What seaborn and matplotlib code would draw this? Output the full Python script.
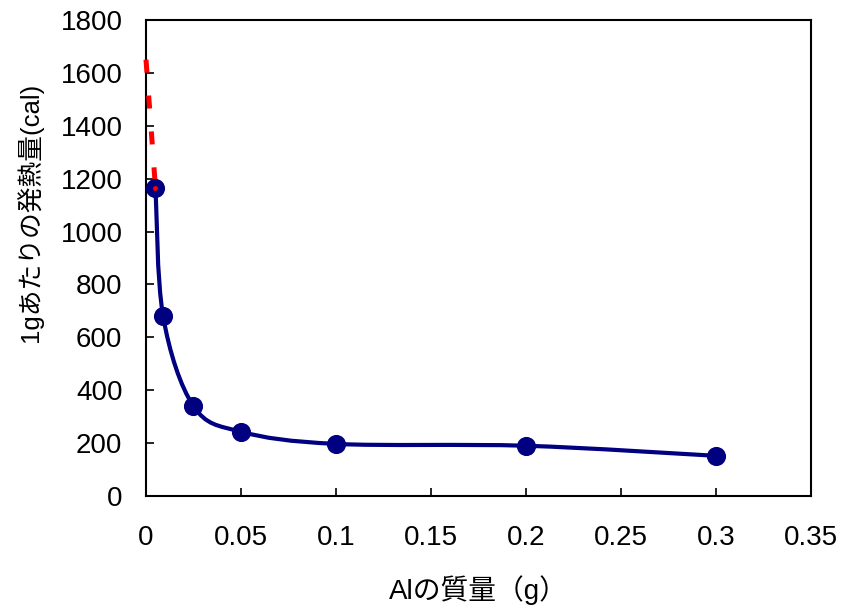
import numpy as np
import pandas as pd
import matplotlib
matplotlib.use("Agg")
import matplotlib.pyplot as plt
from matplotlib.path import Path
from matplotlib.patches import PathPatch
import seaborn as sns

# Heat released per gram versus aluminium mass
al_mass = [0.005, 0.009, 0.025, 0.05, 0.1, 0.2, 0.3]
heat_per_g = [1165, 680, 340, 243, 197, 190, 152]

# Dashed extrapolation towards zero mass
extra_mass = [0.0, 0.005]
extra_heat = [1650, 1165]

x_ticks = [0, 0.05, 0.1, 0.15, 0.2, 0.25, 0.3, 0.35]
x_tick_labels = ["0", "0.05", "0.1", "0.15", "0.2", "0.25", "0.3", "0.35"]
y_ticks = [0, 200, 400, 600, 800, 1000, 1200, 1400, 1600, 1800]

sns.set_theme(style="white")
plt.rcParams["font.family"] = ["Liberation Sans", "Noto Sans CJK JP", "DejaVu Sans"]

df = pd.DataFrame({"mass": al_mass, "heat": heat_per_g})
df_extra = pd.DataFrame({"mass": extra_mass, "heat": extra_heat})

fig = plt.figure(figsize=(8.42, 6.15), dpi=100)
ax = fig.add_axes([0.1734, 0.1935, 0.7894, 0.7740])

navy = "#000080"


def smooth_path(xs, ys):
    """Bezier curve through the points (Catmull-Rom tangents)."""
    pts = np.column_stack([xs, ys]).astype(float)
    n = len(pts)
    verts = [pts[0]]
    codes = [Path.MOVETO]
    for i in range(n - 1):
        p0 = pts[i - 1] if i > 0 else pts[i]
        p1 = pts[i]
        p2 = pts[i + 1]
        p3 = pts[i + 2] if i + 2 < n else pts[i + 1]
        c1 = p1 + (p2 - p0) / 6.0
        c2 = p2 - (p3 - p1) / 6.0
        verts += [c1, c2, p2]
        codes += [Path.CURVE4] * 3
    return Path(np.array(verts), codes)


curve = PathPatch(smooth_path(df["mass"], df["heat"]), facecolor="none",
                  edgecolor=navy, linewidth=3.0, capstyle="round",
                  joinstyle="round", zorder=3)
ax.add_patch(curve)

sns.lineplot(data=df_extra, x="mass", y="heat", ax=ax, color="red",
             linewidth=3.6, dashes=False, zorder=4, clip_on=False)
ax.lines[-1].set_dashes([2.6, 4.6])

sns.scatterplot(data=df, x="mass", y="heat", ax=ax, color=navy, s=190,
                edgecolor=navy, linewidth=0, zorder=5)
# small red dot where the dashed line meets the first point
ax.plot(extra_mass[-1:], extra_heat[-1:], "o", color="red", markersize=2.5,
        zorder=6)

ax.set_xlim(0, 0.35)
ax.set_ylim(0, 1800)
ax.set_xticks(x_ticks)
ax.set_xticklabels(x_tick_labels)
ax.set_yticks(y_ticks)

for sp in ax.spines.values():
    sp.set_visible(True)
    sp.set_color("black")
    sp.set_linewidth(1.5)

ax.tick_params(axis="both", direction="in", length=6, width=1.2,
               colors="black", labelsize=20)
ax.tick_params(axis="x", pad=21, bottom=True)
ax.tick_params(axis="y", pad=17, left=True)
ax.grid(False)

ax.set_xlabel("Alの質量（g）", fontsize=20, labelpad=17, color="black")
ax.set_ylabel("1gあたりの発熱量(cal)", fontsize=18.5, color="black")
ax.yaxis.set_label_coords(-0.155, 0.596)

fig.savefig("out.png", dpi=100, facecolor="white")
